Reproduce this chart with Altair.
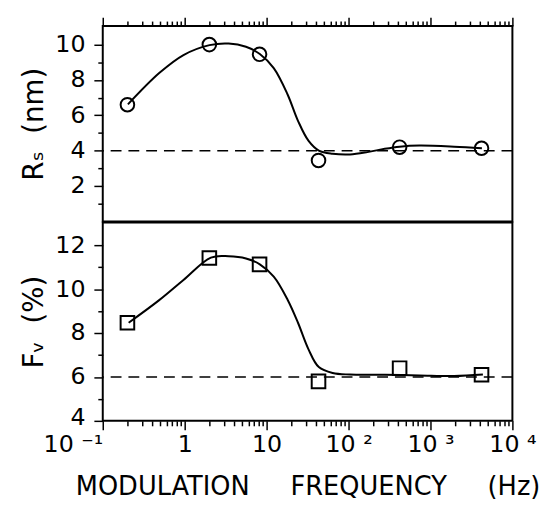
import altair as alt
import pandas as pd

FONT = "DejaVu Sans"

# measured points
freq_hz = [0.2, 2.0, 8.2, 43.0, 420.0, 4200.0]
rs_nm = [6.6, 10.0, 9.45, 3.45, 4.2, 4.14]
fv_pct = [8.47, 11.42, 11.13, 5.8, 6.4, 6.1]

# fitted curves (log10 of frequency, value)
rs_curve_logf = [-0.693, -0.311, -0.015, 0.303, 0.536, 0.748, 0.917, 1.087, 1.256, 1.383,
                 1.510, 1.637, 1.806, 2.018, 2.230, 2.442, 2.624, 2.865, 3.289, 3.628]
rs_curve_val = [6.62, 8.39, 9.41, 9.97, 10.06, 9.88, 9.47, 8.67, 7.18, 5.69,
                4.57, 4.01, 3.83, 3.79, 3.92, 4.11, 4.23, 4.29, 4.23, 4.14]
fv_curve_logf = [-0.684, -0.311, -0.015, 0.32, 0.536, 0.748, 0.917, 1.087, 1.256, 1.383,
                 1.510, 1.637, 1.806, 2.018, 2.442, 2.865, 3.289, 3.64]
fv_curve_val = [8.47, 9.5, 10.42, 11.44, 11.50, 11.40, 11.13, 10.57, 9.52, 8.47,
                7.27, 6.45, 6.18, 6.11, 6.10, 6.07, 6.04, 6.11]

rs_ref = [4.0]
fv_ref = [6.0]

x_decades = [0.1, 1, 10, 100, 1000, 10000]
x_labels = ["10 \u207b\u00b9", "1", "10", "10 \u00b2", "10 \u00b3", "10 \u2074"]
x_minor_mult = [2, 3, 4, 5, 6, 7, 8, 9]
x_ticks = sorted(x_decades + [m * d for d in x_decades[:-1] for m in x_minor_mult])

rs_major = [2, 4, 6, 8, 10]
rs_minor = [1, 3, 5, 7, 9]
fv_major = [4, 6, 8, 10, 12]
fv_minor = [5, 7, 9, 11]

pts = pd.DataFrame({"f": freq_hz, "rs": rs_nm, "fv": fv_pct})
rs_curve = pd.DataFrame({"f": [10 ** v for v in rs_curve_logf], "rs": rs_curve_val})
fv_curve = pd.DataFrame({"f": [10 ** v for v in fv_curve_logf], "fv": fv_curve_val})
rs_line = pd.DataFrame({"rs": rs_ref})
fv_line = pd.DataFrame({"fv": fv_ref})

is_dec = "abs(log(datum.value)/LN10 - round(log(datum.value)/LN10)) < 0.001"
lab_arr = "[" + ",".join("'" + s + "'" for s in x_labels) + "]"
x_label_expr = f"({is_dec}) ? {lab_arr}[round(log(datum.value)/LN10)+1] : ''"

xscale = alt.Scale(type="log", domain=[0.1, 10000], nice=False)

x_top_axis = alt.Axis(orient="top", values=x_ticks, labels=False, title=None, domain=False,
                      grid=False, tickColor="black", tickWidth=1.5,
                      tickSize={"condition": {"test": is_dec, "value": 9}, "value": 5})
NB = "\u00a0" * 5
x_bot_axis = alt.Axis(orient="bottom", values=x_ticks, labelExpr=x_label_expr,
                      title=f"MODULATION{NB}FREQUENCY{NB}(Hz)",
                      domain=False, grid=False, tickColor="black", tickWidth=1.5,
                      tickSize={"condition": {"test": is_dec, "value": 9}, "value": 5},
                      labelAlign={"condition": {"test": "datum.value < 0.2", "value": "right"}, "value": "center"},
                      labelFont=FONT, labelFontSize=24, labelColor="black", labelPadding=3,
                      titleFont=FONT, titleFontSize=26, titleFontWeight="normal", titleColor="black",
                      titlePadding=18, labelOverlap=False, labelFlush=False)


def yaxis(major, minor, title, low_shift):
    arr = "[" + ",".join(str(v) for v in major) + "]"
    return alt.Axis(values=sorted(major + minor), title=title, domain=False, grid=False,
                    labelExpr=f"indexof({arr}, datum.value) >= 0 ? datum.label : ''",
                    tickColor="black", tickWidth=1.5,
                    tickSize={"condition": {"test": f"indexof({arr}, datum.value) >= 0", "value": 9}, "value": 5},
                    labelOffset={"condition": {"test": f"datum.value == {low_shift}", "value": -3}, "value": 0},
                    labelFont=FONT, labelFontSize=24, labelColor="black", labelPadding=9,
                    titleFont=FONT, titleFontSize=28, titleFontWeight="normal", titleColor="black",
                    titlePadding=6, labelOverlap=False, labelFlush=False, labelBound=False)


W = 415

rs_scale = alt.Scale(domain=[0, 11.05], nice=False, zero=False)
fv_scale = alt.Scale(domain=[4, 13.04], nice=False, zero=False)
rs_axis = yaxis(rs_major, rs_minor, "R\u209b\u00a0\u00a0(nm)", -99)
fv_axis = yaxis(fv_major, fv_minor, "F\u1d65\u00a0\u00a0(%)", 4)

top = alt.layer(
    alt.Chart(pts).mark_point(shape="circle", size=190, color="black", strokeWidth=2, filled=False, opacity=1).encode(
        x=alt.X("f:Q", scale=xscale, axis=x_top_axis), y=alt.Y("rs:Q", scale=rs_scale, axis=rs_axis)),
    alt.Chart(rs_curve).mark_line(color="black", strokeWidth=2, interpolate="catmull-rom").encode(
        x=alt.X("f:Q", scale=xscale, axis=x_top_axis), y=alt.Y("rs:Q", scale=rs_scale, axis=rs_axis)),
    alt.Chart(rs_line).mark_rule(color="black", strokeWidth=1.5, strokeDash=[11, 7]).encode(
        y=alt.Y("rs:Q", scale=rs_scale, axis=rs_axis)),
).properties(width=W, height=198)

bot = alt.layer(
    alt.Chart(pts).mark_point(shape="square", size=190, color="black", strokeWidth=2, filled=False, opacity=1).encode(
        x=alt.X("f:Q", scale=xscale, axis=x_bot_axis), y=alt.Y("fv:Q", scale=fv_scale, axis=fv_axis)),
    alt.Chart(fv_curve).mark_line(color="black", strokeWidth=2, interpolate="catmull-rom").encode(
        x=alt.X("f:Q", scale=xscale, axis=x_bot_axis), y=alt.Y("fv:Q", scale=fv_scale, axis=fv_axis)),
    alt.Chart(fv_line).mark_rule(color="black", strokeWidth=1.5, strokeDash=[11, 7]).encode(
        y=alt.Y("fv:Q", scale=fv_scale, axis=fv_axis)),
).properties(width=W, height=201)

chart = alt.vconcat(top, bot, spacing=-2).properties(
    padding={"left": 12, "top": 4, "right": 2, "bottom": 2}
).configure(background="white").configure_view(stroke="black", strokeWidth=2)

chart.save("out.html", embed_options={"renderer": "svg", "actions": False})
